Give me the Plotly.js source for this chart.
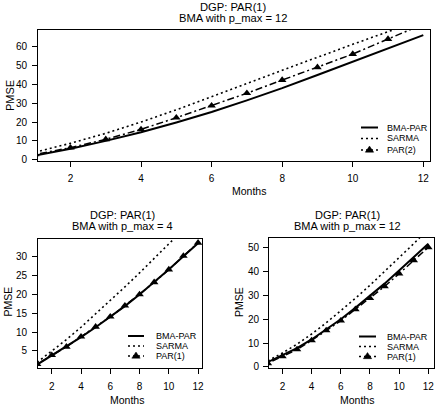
<!DOCTYPE html>
<html>
<head>
<meta charset="utf-8">
<script src="https://cdn.plot.ly/plotly-3.0.1.min.js"></script>
<style>html,body{margin:0;padding:0;background:#fff;}#chart{width:435px;height:407px;}</style>
</head>
<body>
<div id="chart"></div>
<script>
// ---- data ----
const months = [1, 2, 3, 4, 5, 6, 7, 8, 9, 10, 11, 12];
const xTicks = [2, 4, 6, 8, 10, 12];

// Top panel: DGP PAR(1), BMA with p_max = 12
const topBMA   = [2.2, 5.8, 10.0, 14.6, 19.8, 25.3, 31.5, 38.0, 45.0, 52.0, 59.0, 66.2];
const topSARMA = [4.0, 8.7, 14.0, 20.0, 26.5, 33.3, 40.5, 47.5, 54.5, 61.3, 68.0, 74.5];
const topPAR2  = [2.8, 6.4, 10.8, 16.1, 22.3, 28.7, 35.3, 42.3, 49.1, 56.1, 64.1, 72.0];
const topYTicks = [0, 10, 20, 30, 40, 50, 60];

// Bottom-left: DGP PAR(1), BMA with p_max = 4
const blBMA   = [1.4, 3.8, 6.1, 8.7, 11.3, 14.0, 16.9, 20.0, 23.2, 26.6, 30.1, 33.6];
const blSARMA = [2.0, 4.9, 8.0, 11.3, 14.8, 18.4, 22.0, 25.7, 29.5, 33.3, 37.2, 41.1];
const blPAR1  = [1.5, 3.9, 6.1, 8.8, 11.4, 14.1, 17.0, 20.0, 23.2, 26.6, 30.2, 33.7];
const blYTicks = [5, 10, 15, 20, 25, 30];

// Bottom-right: DGP PAR(1), BMA with p_max = 12
const brBMA   = [2.0, 4.8, 7.9, 11.5, 15.6, 20.0, 24.8, 29.8, 35.0, 40.5, 46.0, 51.8];
const brSARMA = [2.5, 5.8, 9.5, 13.8, 18.5, 23.5, 28.8, 34.3, 40.0, 45.8, 51.8, 58.0];
const brPAR1  = [1.5, 4.4, 7.3, 11.1, 15.3, 19.4, 24.2, 28.9, 33.8, 39.2, 44.8, 50.3];
const brYTicks = [0, 10, 20, 30, 40, 50];

const seriesNames = ["BMA-PAR", "SARMA"];
const topParName = "PAR(2)";
const botParName = "PAR(1)";
const titleLine1 = "DGP: PAR(1)";
const topTitle2 = "BMA with p_max = 12";
const blTitle2 = "BMA with p_max = 4";
const brTitle2 = "BMA with p_max = 12";
const xTitle = "Months";
const yTitle = "PMSE";

// ---- styling ----
const W = 435, H = 407;
const px = x => x / W;
const py = y => 1 - y / H;
const FONT = "Liberation Sans, Arial, Helvetica, sans-serif";
const solid = {color: "#000", width: 2, dash: "solid"};
const dotted = {color: "#000", width: 1.6, dash: "2px,3px"};
const dashdot = {color: "#000", width: 1.5, dash: "2px,3px,7px,3px"};

function panelTraces(bma, sarma, par, parName, xa, ya) {
  return [
    {x: months, y: bma, mode: "lines", line: solid, name: seriesNames[0], xaxis: xa, yaxis: ya, showlegend: false},
    {x: months, y: sarma, mode: "lines", line: dotted, name: seriesNames[1], xaxis: xa, yaxis: ya, showlegend: false},
    {x: months, y: par, mode: "lines+markers", line: dashdot, marker: {symbol: "triangle-up", size: 7.5, color: "#000"},
     name: parName, xaxis: xa, yaxis: ya, showlegend: false}
  ];
}

const data = [].concat(
  panelTraces(topBMA, topSARMA, topPAR2, topParName, "x", "y"),
  panelTraces(blBMA, blSARMA, blPAR1, botParName, "x2", "y2"),
  panelTraces(brBMA, brSARMA, brPAR1, botParName, "x3", "y3")
);

function axisBase(extra) {
  return Object.assign({
    showline: true, mirror: true, linecolor: "#000", linewidth: 1,
    ticks: "outside", ticklen: 5, tickwidth: 1, tickcolor: "#000",
    showgrid: false, zeroline: false, fixedrange: true,
    tickfont: {family: FONT, size: 10, color: "#000"},
    tickmode: "array"
  }, extra);
}

const layout = {
  width: W, height: H,
  margin: {l: 0, r: 0, t: 0, b: 0},
  paper_bgcolor: "#fff", plot_bgcolor: "#fff",
  showlegend: false,
  font: {family: FONT, color: "#000"},
  xaxis:  axisBase({domain: [px(38), px(430)], range: [1.08, 12.19], anchor: "y", tickvals: xTicks, ticklabelstandoff: 3}),
  yaxis:  axisBase({domain: [py(161), py(30)], range: [-0.7, 68.9], anchor: "x", tickvals: topYTicks, ticklabelstandoff: 3}),
  xaxis2: axisBase({domain: [px(38), px(202)], range: [1.06, 12.27], anchor: "y2", tickvals: xTicks, ticklabelstandoff: 4}),
  yaxis2: axisBase({domain: [py(368), py(239)], range: [0.49, 34.7], anchor: "x2", tickvals: blYTicks, ticklabelstandoff: 3}),
  xaxis3: axisBase({domain: [px(269), px(434)], range: [1.08, 12.39], anchor: "y3", tickvals: xTicks, ticklabelstandoff: 4}),
  yaxis3: axisBase({domain: [py(368), py(238)], range: [-0.5, 54.2], anchor: "x3", tickvals: brYTicks, ticklabelstandoff: 2}),
  annotations: [],
  shapes: []
};

function txt(text, x, y, size, opts) {
  layout.annotations.push(Object.assign({
    text: text, x: px(x), y: py(y), xref: "paper", yref: "paper",
    showarrow: false, xanchor: "center", yanchor: "middle",
    font: {family: FONT, size: size, color: "#000"}
  }, opts || {}));
}

// Titles
txt(titleLine1, 233, 6.5, 11.2);
txt(topTitle2, 233, 18.5, 11.2);
txt(titleLine1, 122, 215, 11);
txt(blTitle2, 122, 226, 11);
txt(titleLine1, 347, 215, 11);
txt(brTitle2, 347, 226, 11);

// Axis titles
txt(xTitle, 249, 191, 10.5);
txt(xTitle, 126.5, 400, 10.5);
txt(xTitle, 357, 400, 10.5);
txt(yTitle, 10, 96, 11, {textangle: -90});
txt(yTitle, 7.5, 302, 10.5, {textangle: -90});
txt(yTitle, 238.5, 302.5, 10.5, {textangle: -90});

// Legends (drawn as shapes + text)
function legend(x0, x1, xt, rows, parName) {
  const names = [seriesNames[0], seriesNames[1], parName];
  const styles = [solid, dotted, dashdot];
  for (let i = 0; i < 3; i++) {
    layout.shapes.push({type: "line", xref: "paper", yref: "paper",
      x0: px(x0), x1: px(x1), y0: py(rows[i]), y1: py(rows[i]), line: styles[i]});
    txt(names[i], xt, rows[i], 9, {xanchor: "left"});
  }
  const cx = (x0 + x1) / 2, cy = rows[2];
  const w = 4.2, h = 3.6;
  layout.shapes.push({type: "path", xref: "paper", yref: "paper",
    path: `M ${px(cx - w)} ${py(cy + h * 0.6)} L ${px(cx + w)} ${py(cy + h * 0.6)} L ${px(cx)} ${py(cy - h * 1.1)} Z`,
    fillcolor: "#000", line: {color: "#000", width: 0.5}});
}
legend(361, 378, 385, [127.5, 138.5, 150], topParName);
legend(128, 144, 154, [336, 346, 356], botParName);
legend(359, 376, 385, [336.5, 346.5, 356.5], botParName);

Plotly.newPlot("chart", data, layout, {staticPlot: true, displayModeBar: false});
</script>
</body>
</html>
